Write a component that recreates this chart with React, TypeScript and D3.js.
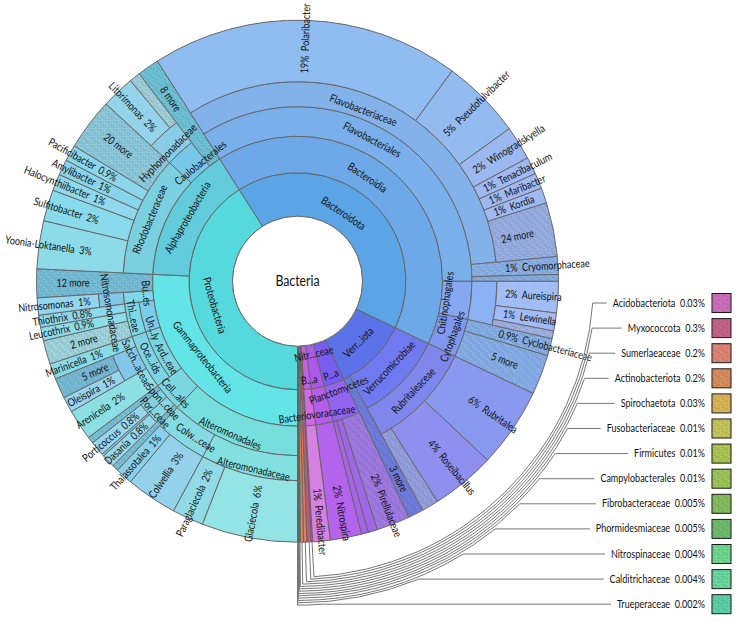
import * as d3 from "d3";
import { useEffect, useRef } from "react";

type Leaf = [string, string, number];
type Node = { name: string; pct?: string; value?: number; children?: Node[] };

// [name, percent label, share of the circle in percent]
const alteromonadaceae: Leaf[] = [["Glaciecola", "6%", 5.94], ["Paraglaciecola", "2%", 1.94]];
const colwelliaceae: Leaf[] = [["Colwellia", "3%", 3.17], ["Thalassotalea", "1%", 1.06]];
const porticoccaceae: Leaf[] = [["Dasania", "0.8%", 0.83], ["_por", "", 0.14]];
const spongiibacteraceae: Leaf[] = [["Porticoccus", "0.8%", 0.89]];
const oceanospirillaceae: Leaf[] = [["Oleispira", "1%", 0.97], ["5 more", "", 1.25]];
const thiotrichaceae: Leaf[] = [["2 more", "", 1.47], ["Leucothrix", "0.9%", 0.83], ["Thiothrix", "0.8%", 0.75]];
const rhodobacteraceae: Leaf[] = [
  ["Yoonia-Loktanella", "3%", 2.97],
  ["Sulfitobacter", "2%", 1.94],
  ["Halocynthiibacter", "1%", 1.03],
  ["Amylibacter", "1%", 0.97],
  ["Pacificibacter", "0.9%", 1.0],
  ["20 more", "", 3.22],
];
const hyphomonadaceae: Leaf[] = [["Litorimonas", "2%", 2.06], ["_hyp", "", 0.67]];
const flavobacteriaceae: Leaf[] = [
  ["Polaribacter", "19%", 19.11],
  ["Pseudofulvibacter", "5%", 4.97],
  ["Winogradskyella", "2%", 2.11],
  ["Tenacibaculum", "1%", 1.06],
  ["Maribacter", "1%", 0.97],
  ["Kordia", "1%", 0.94],
  ["24 more", "", 3.33],
];
const saprospiraceae: Leaf[] = [["Aureispira", "2%", 1.94], ["Lewinella", "1%", 1.11], ["_sap", "", 0.47]];
const rubritaleaceae: Leaf[] = [["Rubritalea", "6%", 4.94], ["Roseibacillus", "4%", 3.97], ["_rub", "", 1.03]];

const tinyNames = [
  "Acidobacteriota", "Myxococcota", "Sumerlaeaceae", "Actinobacteriota", "Spirochaetota",
  "Fusobacteriaceae", "Firmicutes", "Campylobacterales", "Fibrobacteraceae", "Phormidesmiaceae",
  "Nitrospinaceae", "Calditrichaceae", "Trueperaceae",
];
const tinyPercents = ["0.03%", "0.3%", "0.2%", "0.2%", "0.03%", "0.01%", "0.01%", "0.01%", "0.005%", "0.005%", "0.004%", "0.004%", "0.002%"];
const tinyValues = [0.08, 0.27, 0.2, 0.2, 0.05, 0.03, 0.03, 0.02, 0.01, 0.01, 0.01, 0.01, 0.005];
const tinyColors = ["#cb63b8", "#c4557c", "#e07b6a", "#d8854e", "#dcb048", "#c3c34e", "#a6c444", "#96c24c", "#7dbb50", "#62b860", "#62d884", "#5cd894", "#4ed0a0"];

const leaves = (list: Leaf[]): Node[] => list.map(([name, pct, value]) => ({ name, pct, value }));
const leaf = (name: string, pct: string, value: number): Node => ({ name, pct, value });
const branch = (name: string, children: Node[]): Node => ({ name, children });

const tree: Node = branch("Bacteria", [
  branch("Proteobacteria", [
    branch("Gammaproteobacteria", [
      branch("Alteromonadales", [
        branch("Alteromonadaceae", leaves(alteromonadaceae)),
        branch("Colw...ceae", leaves(colwelliaceae)),
      ]),
      branch("Cell...ales", [
        leaf("_cel1", "", 0.39),
        branch("Por...ceae", leaves(porticoccaceae)),
        branch("Spon...ceae", leaves(spongiibacteraceae)),
        leaf("_cel2", "", 0.42),
      ]),
      branch("Ard...eae", [
        branch("Oce...ids", [
          leaf("Arenicella", "2%", 1.89),
          branch("Sacch...aceae", leaves(oceanospirillaceae)),
          leaf("Marinicella", "1%", 0.97),
        ]),
      ]),
      branch("Un...ly", [branch("Thi...eae", leaves(thiotrichaceae))]),
      branch("Bu...es", [branch("Nitrosomonadaceae", [leaf("Nitrosomonas", "1%", 1.06)])]),
      leaf("12 more", "", 1.78),
    ]),
    branch("Alphaproteobacteria", [
      branch("Rhodobacteraceae", leaves(rhodobacteraceae)),
      branch("Caulobacterales", [branch("Hyphomonadaceae", leaves(hyphomonadaceae))]),
      leaf("8 more", "", 1.36),
    ]),
  ]),
  branch("Bacteroidota", [
    branch("Bacteroidia", [
      branch("Flavobacteriales", [
        branch("Flavobacteriaceae", leaves(flavobacteriaceae)),
        leaf("Cryomorphaceae", "1%", 1.11),
        leaf("_fla", "", 0.42),
      ]),
      branch("Chitinophagales", [branch("_sapro", leaves(saprospiraceae))]),
      branch("Cytophagales", [leaf("Cyclobacteriaceae", "0.9%", 1.08), leaf("5 more ", "", 2.47)]),
    ]),
  ]),
  branch("Verr...iota", [
    branch("Verrucomicrobiae", [branch("Rubritaleaceae", leaves(rubritaleaceae))]),
    leaf("3 more", "", 0.97),
  ]),
  branch("P...a", [
    branch("Planctomycetes", [leaf("Pirellulaceae", "2%", 2.06), leaf("_pla1", "", 0.58), leaf("_pla2", "", 0.42)]),
  ]),
  branch("Nitr...ceae", [branch("_nit", [leaf("Nitrospira", "2%", 1.94)])]),
  branch("B...a", [branch("Bacteriovoracaceae", [leaf("Peredibacter", "1%", 1.08)])]),
  ...tinyNames.map((name, i) => leaf(name, tinyPercents[i], tinyValues[i])),
]);

const hatchedNames = [
  "12 more", "8 more", "20 more", "24 more", "5 more", "5 more ", "2 more", "3 more", "_hyp", "_fla", "_sap", "_rub",
  "_cel1", "_cel2", "Cryomorphaceae", "Cyclobacteriaceae", "Pirellulaceae",
];

const fills: Record<string, string> = {
  Proteobacteria: "#56d9dc", Gammaproteobacteria: "#63e4e6", Alteromonadales: "#76dfdd", Alteromonadaceae: "#82e0e0",
  Glaciecola: "#94e4e6", Paraglaciecola: "#90dbe6", "Colw...ceae": "#85dbe4", Colwellia: "#93d2ea", Thalassotalea: "#8cd1ec",
  "Cell...ales": "#7cd6e2", _cel1: "#6cc0d8", _cel2: "#6cc0d8", "Por...ceae": "#86d6e6", "Spon...ceae": "#82d2e4", Dasania: "#94d8ec", _por: "#7cc6de", Porticoccus: "#98d6ee",
  "Ard...eae": "#78d6e2", "Oce...ids": "#7cd4e4", Arenicella: "#8ce0e4", "Sacch...aceae": "#82c6ea", Oleispira: "#98d4f0", "5 more": "#6db8d6", Marinicella: "#8adae8",
  "Un...ly": "#7accec", "Thi...eae": "#7cd8e4", "2 more": "#9ad4dc", Leucothrix: "#8cdcea", Thiothrix: "#8cd8ec",
  "Bu...es": "#7ed8ea", Nitrosomonadaceae: "#82c6e8", Nitrosomonas: "#94d6ee", "12 more": "#6cbad6",
  Alphaproteobacteria: "#62cbdc", Rhodobacteraceae: "#7bd0e0", "Yoonia-Loktanella": "#8ddbe9", Sulfitobacter: "#89daea", Halocynthiibacter: "#90d8ec", Amylibacter: "#88d4ea", Pacificibacter: "#8cd6ec", "20 more": "#84c8dc",
  Caulobacterales: "#76c8e8", Hyphomonadaceae: "#88cce6", Litorimonas: "#93d4ea", _hyp: "#9acfdc", "8 more": "#62c0d6",
  Bacteroidota: "#5ba4e6", Bacteroidia: "#6da9e8", Flavobacteriales: "#79afea", Flavobacteriaceae: "#83b2eb",
  Polaribacter: "#8fbdf2", Pseudofulvibacter: "#93bbf0", Winogradskyella: "#9cb8f0", Tenacibaculum: "#a0b9f2", Maribacter: "#a0b9f2", Kordia: "#a0baf2", "24 more": "#90aae4",
  Cryomorphaceae: "#82ade8", _fla: "#7caae4", Chitinophagales: "#85a8f0", _sapro: "#8ab2f4", Aureispira: "#a0bdf5", Lewinella: "#a2baf5", _sap: "#98aee8",
  Cytophagales: "#7f98ee", Cyclobacteriaceae: "#7cabe8", "5 more ": "#7eaaea",
  "Verr...iota": "#5c72e8", Verrucomicrobiae: "#6f7af0", Rubritaleaceae: "#7f87ec", Rubritalea: "#8a99f0", Roseibacillus: "#8f8ff0", _rub: "#8e9ae0", "3 more": "#6473e0",
  "P...a": "#7b5cf0", Planctomycetes: "#9264f0", Pirellulaceae: "#9a70e4", _pla1: "#a066e8", _pla2: "#a864e8",
  "Nitr...ceae": "#ac58ea", _nit: "#b25ee8", Nitrospira: "#b463ec",
  "B...a": "#c45ee6", Bacteriovoracaceae: "#d268e4", Peredibacter: "#d680e2",
};
tinyNames.forEach((name, i) => { fills[name] = tinyColors[i]; });

const ringRadii = [65, 108.5, 145, 174.5, 199.5, 261];
// two thin bands in the gammaproteobacteria
const outerOverrides: Record<string, number> = { "Ard...eae": 160, "Un...ly": 160 };
// [degrees along the ring, radial px] nudges of tangential labels
const labelShifts: Record<string, [number, number]> = {
  "Nitr...ceae": [-2, -12], "B...a": [-1.5, 13], "P...a": [0, 13],
  Planctomycetes: [-1, -10], Bacteriovoracaceae: [-3, 8],
  Chitinophagales: [2, -10], Cytophagales: [0.5, 5], Nitrosomonadaceae: [-4, 3],
  "Sacch...aceae": [-1, -6], "Un...ly": [-5, 0], "Ard...eae": [-3, 0], "Oce...ids": [0, -1], "Thi...eae": [1, 1],
  "Bu...es": [1, -8],
  "Cell...ales": [-1, 6], "Por...ceae": [0.5, 7], "Spon...ceae": [-2, -6], "Colw...ceae": [-3, 0],
  Flavobacteriaceae: [-5, -4], Flavobacteriales: [-1, 0], Bacteroidia: [-7.5, -2], Bacteroidota: [-7.5, -5],
  Hyphomonadaceae: [-3, -5], Caulobacterales: [3, -7], Gammaproteobacteria: [5, -5], Alteromonadales: [2, 7],
  Alteromonadaceae: [-1, 6],
};

const CX = 297.5;
const CY = 281.2;
const FONT = "Lato, 'Noto Sans', sans-serif";
const NARROW = "scale(0.82,1)"; // the original face is condensed
const legendRight = 705;
const legendTop = 303;
const legendStep = 25.1;
const leaderBase = 296;
const leaderStep = 2.33;

export default function App() {
  const svgRef = useRef<SVGSVGElement | null>(null);

  useEffect(() => {
    const svg = d3.select(svgRef.current);
    svg.selectAll("*").remove();

    const root = d3.partition<Node>().size([360, 1])(
      d3.hierarchy(tree, d => d.children).sum(d => d.value ?? 0)
    );
    const angle = d3.scaleLinear().domain([0, 360]).range([180, 540]);
    const arc = d3.arc();
    const rad = (deg: number) => (deg * Math.PI) / 180;

    const hatch = svg.append("defs").append("pattern")
      .attr("id", "hatch").attr("patternUnits", "userSpaceOnUse")
      .attr("patternTransform", "scale(0.62)")
      .attr("width", 13).attr("height", 13);
    hatch.append("rect").attr("width", 13).attr("height", 13).attr("fill", "#fff").attr("opacity", 0.08);
    hatch.append("path")
      .attr("d", "M1 2h2v2h2M7 0.5v3h3M11.5 3h1.5M2 6.5v3h2M6 6.5h3v2M11 6v3h2M0.5 11.5h3M6 10.5v2h3M11 11h2")
      .attr("fill", "none").attr("stroke", "#223").attr("stroke-opacity", 0.24).attr("stroke-width", 1.1);

    const g = svg.append("g").attr("transform", `translate(${CX},${CY})`);
    const radii = new Map<d3.HierarchyRectangularNode<Node>, [number, number]>();
    const nodes = root.descendants().filter(d => d.depth > 0);

    nodes.forEach(d => {
      const inner = radii.get(d.parent!)?.[1] ?? ringRadii[0];
      const next = ringRadii.find(r => r > inner + 1) ?? 261;
      const outer = outerOverrides[d.data.name] ?? (d.children ? next : 261);
      radii.set(d, [inner, outer]);
    });

    nodes.forEach(d => {
      const [innerRadius, outerRadius] = radii.get(d)!;
      const pathD = arc({
        innerRadius,
        outerRadius,
        startAngle: rad(angle(d.x0)),
        endAngle: rad(angle(d.x1)),
      })!;
      g.append("path").attr("d", pathD).attr("fill", fills[d.data.name] ?? "#999")
        .attr("stroke", "#666").attr("stroke-width", 1);
      if (hatchedNames.includes(d.data.name)) {
        g.append("path").attr("d", pathD).attr("fill", "url(#hatch)").attr("stroke", "none");
      }
    });

    // center
    g.append("circle").attr("r", 65).attr("fill", "#fff").attr("stroke", "#666");
    g.append("text").attr("text-anchor", "middle").attr("transform", `translate(0,5) ${NARROW}`)
      .attr("font-family", FONT).attr("font-size", 15).attr("fill", "#111").text("Bacteria");

    const labels = g.append("g").attr("font-family", FONT).attr("font-size", 11).attr("fill", "#111");
    nodes.forEach(d => {
      const name = d.data.name;
      if (name.startsWith("_") || (d.depth === 1 && !d.children)) return;
      const mid = ((angle(d.x0) + angle(d.x1)) / 2) % 360;
      if (d.children) {
        const [shiftA, shiftR] = labelShifts[name] ?? [0, 0];
        const [r0, r1] = radii.get(d)!;
        const a = mid + shiftA;
        const r = (r0 + r1) / 2 + shiftR;
        const turn = a > 90 && a < 270 ? a - 180 : a;
        labels.append("text")
          .attr("transform", `rotate(${a}) translate(0,${-r}) rotate(${turn - a}) ${NARROW}`)
          .attr("text-anchor", "middle").attr("y", 3.5).text(name);
      } else {
        const right = mid < 180;
        const pct = d.data.pct ?? "";
        const label = pct ? (right ? `${pct}\u00a0\u00a0${name}` : `${name}\u00a0\u00a0${pct}`) : name.trim();
        labels.append("text")
          .attr("transform", right
            ? `rotate(${mid - 90}) translate(208,0) ${NARROW}`
            : `rotate(${mid + 90}) translate(-208,0) ${NARROW}`)
          .attr("text-anchor", right ? "start" : "end").attr("y", 3.5).text(label);
      }
    });

    // legend and leaders for the wedges too small to label
    const tiny = root.children!.filter(d => tinyNames.includes(d.data.name));
    const legend = svg.append("g");
    tiny.forEach((d, i) => {
      const y = legendTop + i * legendStep;
      const text = legend.append("text")
        .attr("transform", `translate(${legendRight},${y + 3.5}) ${NARROW}`).attr("text-anchor", "end")
        .attr("font-family", FONT).attr("font-size", 11).attr("fill", "#111")
        .text(`${d.data.name}\u00a0\u00a0${tinyPercents[i]}`);
      const textStart = legendRight - (text.node() as SVGTextElement).getComputedTextLength() * 0.82;
      legend.append("rect").attr("x", 712).attr("y", y - 9.5).attr("width", 19).attr("height", 19)
        .attr("fill", tinyColors[i]).attr("stroke", "#111");
      legend.append("rect").attr("x", 712).attr("y", y - 9.5).attr("width", 19).attr("height", 19)
        .attr("fill", "url(#hatch)");

      const mid = rad(angle((d.x0 + d.x1) / 2) % 360);
      const r = leaderBase + i * leaderStep;
      const polar = (a: number, rr: number): [number, number] => [CX + rr * Math.sin(a), CY - rr * Math.cos(a)];
      const path = d3.path();
      const [x0, y0] = polar(mid, 261);
      const [x1, y1] = polar(mid, r);
      path.moveTo(x0, y0);
      path.lineTo(x1, y1);
      // d3.path angles run from the x axis; go counterclockwise up to the label line
      path.arc(CX, CY, r, mid - Math.PI / 2, Math.asin((y - CY) / r), true);
      path.lineTo(textStart - 6, y);
      legend.append("path").attr("d", path.toString()).attr("fill", "none")
        .attr("stroke", "#777").attr("stroke-width", 1);
    });
  }, []);

  return (
    <svg
      ref={svgRef}
      width={741}
      height={623}
      style={{ position: "absolute", left: 0, top: 0, background: "#fff" }}
    />
  );
}
